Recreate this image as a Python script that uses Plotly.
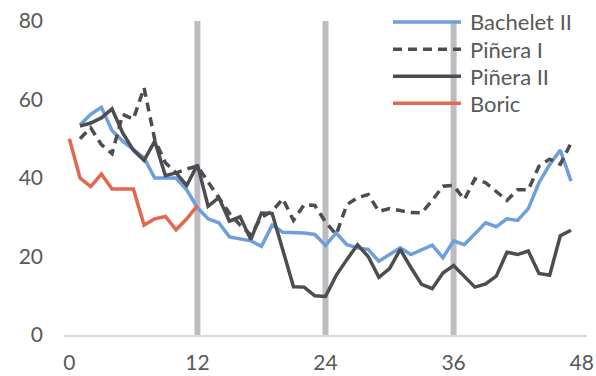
import plotly.graph_objects as go

# Approval (%) by month of term
months_pres = list(range(1, 48))
months_boric = list(range(0, 13))

bachelet_ii = [53.5, 56.2, 58, 52.1, 49.4, 47.3, 45.1, 40, 40, 40, 37, 32.4,
               29.6, 28.6, 25, 24.6, 24, 22.6, 28, 26.2, 26.2, 26, 25.6, 22.8,
               26, 23, 22.2, 21.8, 18.8, 20.5, 22.2, 20.5, 21.8, 22.9, 19.7, 24,
               23, 25.8, 28.6, 27.6, 29.6, 29.2, 32.2, 38.8, 43.4, 47.1, 39.2]
pinera_i = [50, 52.8, 48.5, 46.2, 56.2, 55, 63, 49.8, 43.9, 41.3, 42.3, 43,
            39, 35, 31, 28, 25.5, 30, 31.5, 34.7, 29.2, 33.2, 33, 28.8,
            25.6, 33.2, 35, 35.8, 31.5, 32.2, 31.6, 31.2, 31.1, 34.3, 37.9, 38.1,
            34.5, 39.8, 38.8, 36.6, 34.3, 37, 37, 43, 44.8, 43.5, 48.9]
pinera_ii = [53.2, 54, 55.3, 57.6, 51.5, 47.1, 44.5, 49.4, 40.6, 41.3, 38.1, 43.4,
             32.8, 35, 29, 30.1, 24.3, 31.1, 31, 21.5, 12.3, 12.2, 10, 9.8,
             15.2, 19.2, 23, 20, 14.7, 16.9, 21.8, 17.2, 12.9, 11.8, 15.8, 17.7,
             15, 12.2, 13, 15, 21.1, 20.5, 21.4, 15.7, 15.2, 25.3, 26.7]
boric = [50, 40, 37.8, 41, 37.2, 37.2, 37.2, 28, 29.6, 30.2, 26.8, 29.6, 33]

series_names = ["Bachelet II", "Piñera I", "Piñera II", "Boric"]
year_marks = [12, 24, 36]
x_ticks = [0, 12, 24, 36, 48]
y_ticks = [0, 20, 40, 60, 80]

BLUE = "#6f9fdb"
DARK = "#4b4d51"
RED = "#e5674f"
MARK = "#bdbdc1"
TEXT = "#595959"
FONT = "Lato"

styles = [
    dict(color=BLUE, width=3.5, dash="solid"),
    dict(color=DARK, width=3.5, dash="9px,6px"),
    dict(color=DARK, width=3.5, dash="solid"),
    dict(color=RED, width=3.5, dash="solid"),
]
xs = [months_pres, months_pres, months_pres, months_boric]
ys = [bachelet_ii, pinera_i, pinera_ii, boric]

fig = go.Figure()
for name, x, y, st in zip(series_names, xs, ys, styles):
    fig.add_trace(go.Scatter(x=x, y=y, name=name, mode="lines",
                             line=st, showlegend=False))

# year boundaries
for m in year_marks:
    fig.add_shape(type="line", xref="x", yref="y", x0=m, x1=m,
                  y0=y_ticks[0], y1=y_ticks[-1],
                  line=dict(color=MARK, width=6), layer="below")

# legend block, top right
leg_x0, leg_x1, txt_x = 0.629, 0.759, 0.772
row_y = [0.997, 0.91, 0.824, 0.738]
for name, st, yy in zip(series_names, styles, row_y):
    fig.add_shape(type="line", xref="paper", yref="paper",
                  x0=leg_x0, x1=leg_x1, y0=yy, y1=yy,
                  line=st, layer="above")
    fig.add_annotation(xref="paper", yref="paper", x=txt_x, y=yy,
                       text=name, showarrow=False, xanchor="left",
                       yanchor="middle",
                       font=dict(family=FONT, size=22, color=TEXT))

fig.update_layout(
    width=596, height=376,
    margin=dict(l=64, r=9, t=21, b=41),
    paper_bgcolor="white", plot_bgcolor="white",
    font=dict(family=FONT, size=21, color=TEXT),
    showlegend=False,
)
fig.update_xaxes(range=[-0.5, 48.5], tickvals=x_ticks, showgrid=False,
                 zeroline=False, showline=True, linecolor="#d9d9d9",
                 linewidth=2, ticks="", ticklabelstandoff=8,
                 automargin=False)
fig.update_yaxes(range=[0, 80], tickvals=y_ticks, showgrid=False,
                 zeroline=False, showline=False, ticks="",
                 ticklabelstandoff=20, automargin=False)

fig.write_html("out.html")
